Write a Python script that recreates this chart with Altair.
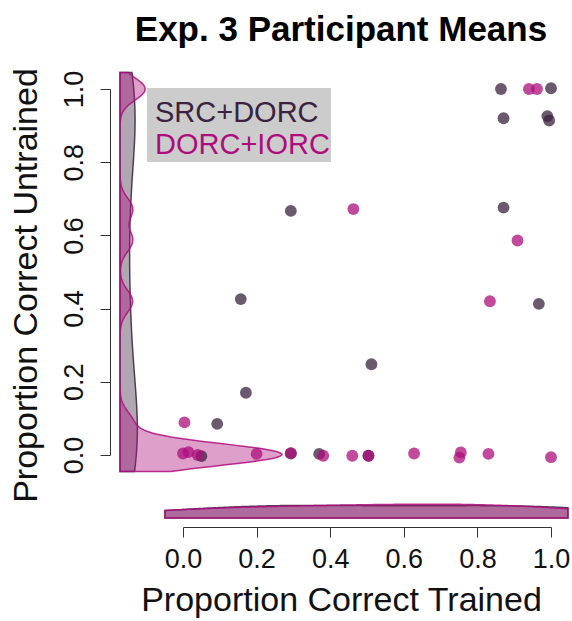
import altair as alt
import pandas as pd

# ---- data: participant means per group ----
GROUPS = ["SRC+DORC", "DORC+IORC"]
COLORS = ["#3a233e", "#ae0e7c"]

src_trained = [0.864, 1.000, 0.871, 0.990, 0.995, 0.871, 0.967, 0.512,
               0.293, 0.157, 0.171, 0.093, 0.050, 0.293, 0.370, 0.504]
src_untrained = [1.000, 1.002, 0.920, 0.926, 0.914, 0.676, 0.413, 0.248,
                 0.667, 0.426, 0.170, 0.085, -0.003, 0.004, 0.003, -0.002]

dorc_trained = [0.940, 0.962, 0.909, 0.834, 0.463, 0.004, 0.000, 0.015, 0.040,
                0.200, 0.293, 0.381, 0.460, 0.504, 0.628, 0.755, 0.751, 0.830, 1.000]
dorc_untrained = [1.000, 1.000, 0.586, 0.420, 0.672, 0.089, 0.004, 0.008, 0.000,
                  0.003, 0.005, -0.002, -0.002, -0.002, 0.004, 0.007, -0.007, 0.003, -0.006]

TICKS = [0.0, 0.2, 0.4, 0.6, 0.8, 1.0]

df = pd.concat([
    pd.DataFrame({"group": GROUPS[0], "trained": src_trained, "untrained": src_untrained}),
    pd.DataFrame({"group": GROUPS[1], "trained": dorc_trained, "untrained": dorc_untrained}),
], ignore_index=True)

# ---- layout constants (plot area 368 x 366 px) ----
W, H = 368, 366
FONT = "Liberation Sans"
LEFT_BASE = -63 / W          # baseline of the marginal density on the left (data units)
LEFT_K = 18 / W              # px per density unit -> data units
BOTTOM_BASE = -63 / H        # baseline of the marginal density below
BOTTOM_K = 17 / H
# kernel bandwidths (left: untrained, bottom: trained)
BW_LEFT = {GROUPS[0]: 0.16, GROUPS[1]: 0.03}
BW_BOTTOM = {GROUPS[0]: 0.28, GROUPS[1]: 0.28}

x_scale = alt.Scale(domain=[0, 1], nice=False, zero=False)
y_scale = alt.Scale(domain=[0, 1], nice=False, zero=False)
color_scale = alt.Scale(domain=GROUPS, range=COLORS)

AXIS_STYLE = dict(values=TICKS, format=".1f", tickSize=10, labelFontSize=27,
                  titleFontSize=34, grid=False, labelFlush=False,
                  domainColor="#333333", tickColor="#333333", domainWidth=1,
                  tickWidth=1, labelFont=FONT, titleFont=FONT,
                  labelColor="#111111", titleColor="#111111",
                  titleFontWeight="normal")

x_axis = alt.Axis(title="Proportion Correct Trained", orient="bottom", offset=72,
                  labelPadding=9, titleX=158, titleY=73, titleAlign="center",
                  titleBaseline="middle", **AXIS_STYLE)
y_axis = alt.Axis(title="Proportion Correct Untrained", orient="left", offset=73,
                  labelAngle=270, labelAlign="center", labelBaseline="bottom",
                  labelPadding=12, titleAngle=270, titleX=-84, titleY=196,
                  titleAlign="center", titleBaseline="middle", **AXIS_STYLE)


def X(field, axis=None):
    return alt.X(field, type="quantitative", scale=x_scale, axis=axis)


def Y(field, axis=None):
    return alt.Y(field, type="quantitative", scale=y_scale, axis=axis)


base = alt.Chart(df)
layers = []

# marginal densities of untrained scores (left strip)
for g, c in zip(GROUPS, COLORS):
    dens = (
        base.transform_filter(alt.datum.group == g)
        .transform_density("untrained", as_=["untrained", "density"],
                           bandwidth=BW_LEFT[g], extent=[-0.045, 1.045], steps=300)
        .transform_calculate(xd=f"{LEFT_BASE} + datum.density * {LEFT_K}",
                             x0=f"{LEFT_BASE}")
    )
    layers.append(dens.mark_area(orient="horizontal", color=c, fillOpacity=0.4,
                                 stroke=c, strokeWidth=1.5, strokeOpacity=0.85)
                  .encode(y=Y("untrained"), x=X("xd"), x2="x0:Q"))

# marginal densities of trained scores (bottom strip)
for g, c in zip(GROUPS, COLORS):
    dens = (
        base.transform_filter(alt.datum.group == g)
        .transform_density("trained", as_=["trained", "density"],
                           bandwidth=BW_BOTTOM[g], extent=[-0.049, 1.046], steps=300)
        .transform_calculate(yd=f"{BOTTOM_BASE} + datum.density * {BOTTOM_K}",
                             y0=f"{BOTTOM_BASE}")
    )
    layers.append(dens.mark_area(orient="vertical", color=c, fillOpacity=0.4,
                                 stroke=c, strokeWidth=1.5, strokeOpacity=0.85)
                  .encode(x=X("trained"), y=Y("yd"), y2="y0:Q"))

# participant means (the axes are attached to this layer only)
for i, g in enumerate(GROUPS):
    layers.append(
        base.transform_filter(alt.datum.group == g)
        .mark_circle(size=140, opacity=0.75)
        .encode(x=X("trained", x_axis if i == 0 else None),
                y=Y("untrained", y_axis if i == 0 else None),
                color=alt.Color("group:N", scale=color_scale, legend=None))
    )

# key box with coloured group names
legend_box = alt.Chart(pd.DataFrame({"k": [0]})).mark_rect(color="#cccccc").encode(
    x=alt.value(-36), x2=alt.value(148), y=alt.value(-1), y2=alt.value(73))
layers.append(legend_box)
for i, (g, c) in enumerate(zip(GROUPS, COLORS)):
    layers.append(
        alt.Chart(pd.DataFrame({"k": [0]})).mark_text(
            text=g, color=c, fontSize=29, font=FONT, align="left", baseline="middle")
        .encode(x=alt.value(-28), y=alt.value(24 + 32 * i))
    )

chart = (
    alt.layer(*layers)
    .resolve_axis(x="independent", y="independent")
    .properties(
        width=W, height=H,
        background="white",
        autosize=alt.AutoSizeParams(type="none"),
        padding={"left": 183, "top": 89, "right": 21, "bottom": 166},
        title=alt.TitleParams("Exp. 3 Participant Means", fontSize=35, fontWeight="bold",
                              font=FONT, anchor="middle", frame="group", dx=-26,
                              offset=20, color="#000000"),
    )
    .configure_view(stroke=None)
)

chart.save("out.html", embed_options={"renderer": "svg", "actions": False})
